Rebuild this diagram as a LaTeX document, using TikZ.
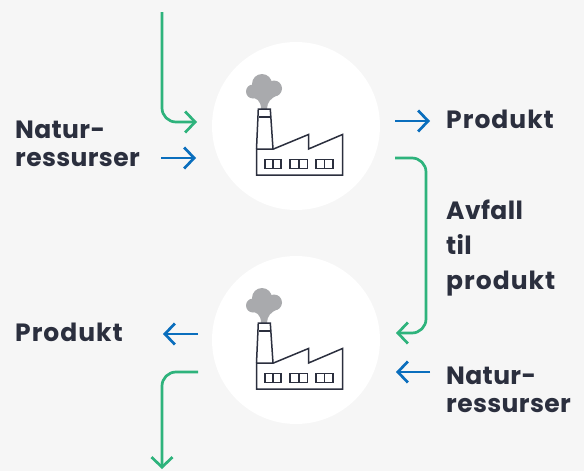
\documentclass[tikz,border=0pt]{standalone}
\usepackage{fontspec}
\setmainfont[LetterSpace=1.5]{Poppins}
\newfontfamily\widefont[LetterSpace=4]{Poppins}
\usetikzlibrary{arrows.meta}
\definecolor{bgc}{HTML}{F6F6F6}
\definecolor{inkc}{HTML}{2B2F3E}
\definecolor{smokec}{HTML}{A9AAAD}
\definecolor{greenc}{HTML}{2EB37C}
\definecolor{bluec}{HTML}{0A6EBD}
\tikzset{
  x=1pt,y=-1pt,
  hub/.style={circle,fill=white,minimum size=168pt,inner sep=0pt},
  lbl/.style={font=\fontsize{25}{28}\selectfont\bfseries,text=inkc,anchor=west,align=left,inner sep=0pt},
  flow/.style={line width=2.7pt,-{Straight Barb[length=10pt,width=21pt,line width=2.7pt]},rounded corners=14pt},
  gflow/.style={flow,draw=greenc},
  bflow/.style={flow,draw=bluec},
  fac/.style={draw=inkc,line width=1.5pt,line join=miter},
  factory/.pic={
    % coordinates relative to the circle centre
    \fill[smokec] (-34,-42) circle (10);
    \fill[smokec] (-22,-37.5) circle (8);
    \fill[smokec] (-32,-36) circle (9);
    \fill[smokec] (-43,-34.5) circle (7);
    \fill[smokec] (-46,-29) .. controls (-40,-28) and (-35,-26) .. (-35,-17)
       -- (-29,-17) .. controls (-29,-24) and (-25,-28) .. (-18,-31)
       -- (-34,-40) -- cycle;
    \draw[fac] (-39.5,49) -- (46.5,49) -- (46.5,8.5) -- (12.5,23) -- (12.5,8.5) -- (-22.5,23) -- (-39.5,23) -- cycle;
    \draw[fac] (-39.5,23) -- (-37.7,-17) -- (-25.7,-17) -- (-23,23);
    \draw[fac] (-37.4,-9) -- (-25.3,-9);
    \foreach \a/\b in {-31/-15,-6/11.5,20/37}{
      \draw[fac] (\a,33.5) rectangle (\b,42.5);
      \draw[fac] ({(\a+\b)/2},33.5) -- ({(\a+\b)/2},42.5);
    }
  }
}
\begin{document}
\begin{tikzpicture}
\useasboundingbox (0,0) rectangle (584,471);
\fill[bgc] (0,0) rectangle (584,471);
\node[hub] (top) at (296,126) {};
\node[hub] (bot) at (296,340) {};
\pic at (top.center) {factory};
\pic at (bot.center) {factory};
\node[lbl] (natA) at (15,144) {Natur-\\ressurser};
\node[lbl] (prodA) at (446,119) {\widefont Produkt};
\node[lbl] (avfall) at (446,248.5) {Avfall\\[7pt]til\\[7pt]{\widefont produkt}};
\node[lbl] (prodB) at (15,332) {\widefont Produkt};
\node[lbl] (natB) at (446,390) {Natur-\\ressurser};
\coordinate (a1) at (162,12);
\coordinate (a2) at (197,122);
\coordinate (b1) at (161,158);
\coordinate (b2) at (196,158);
\coordinate (c1) at (395,121);
\coordinate (c2) at (430,121);
\coordinate (d1) at (395,158);
\coordinate (d2) at (396,333);
\coordinate (e1) at (198,334);
\coordinate (e2) at (163,334);
\coordinate (f1) at (198,372);
\coordinate (f2) at (162,469);
\coordinate (g1) at (430,372);
\coordinate (g2) at (396,372);
\draw[gflow] (a1) |- (a2);
\draw[bflow] (b1) -- (b2);
\draw[bflow] (c1) -- (c2);
\draw[gflow] (d1) -- (426,158) -- (426,333) -- (d2);
\draw[bflow] (e1) -- (e2);
\draw[gflow] (f1) -| (f2);
\draw[bflow] (g1) -- (g2);
\end{tikzpicture}
\end{document}
